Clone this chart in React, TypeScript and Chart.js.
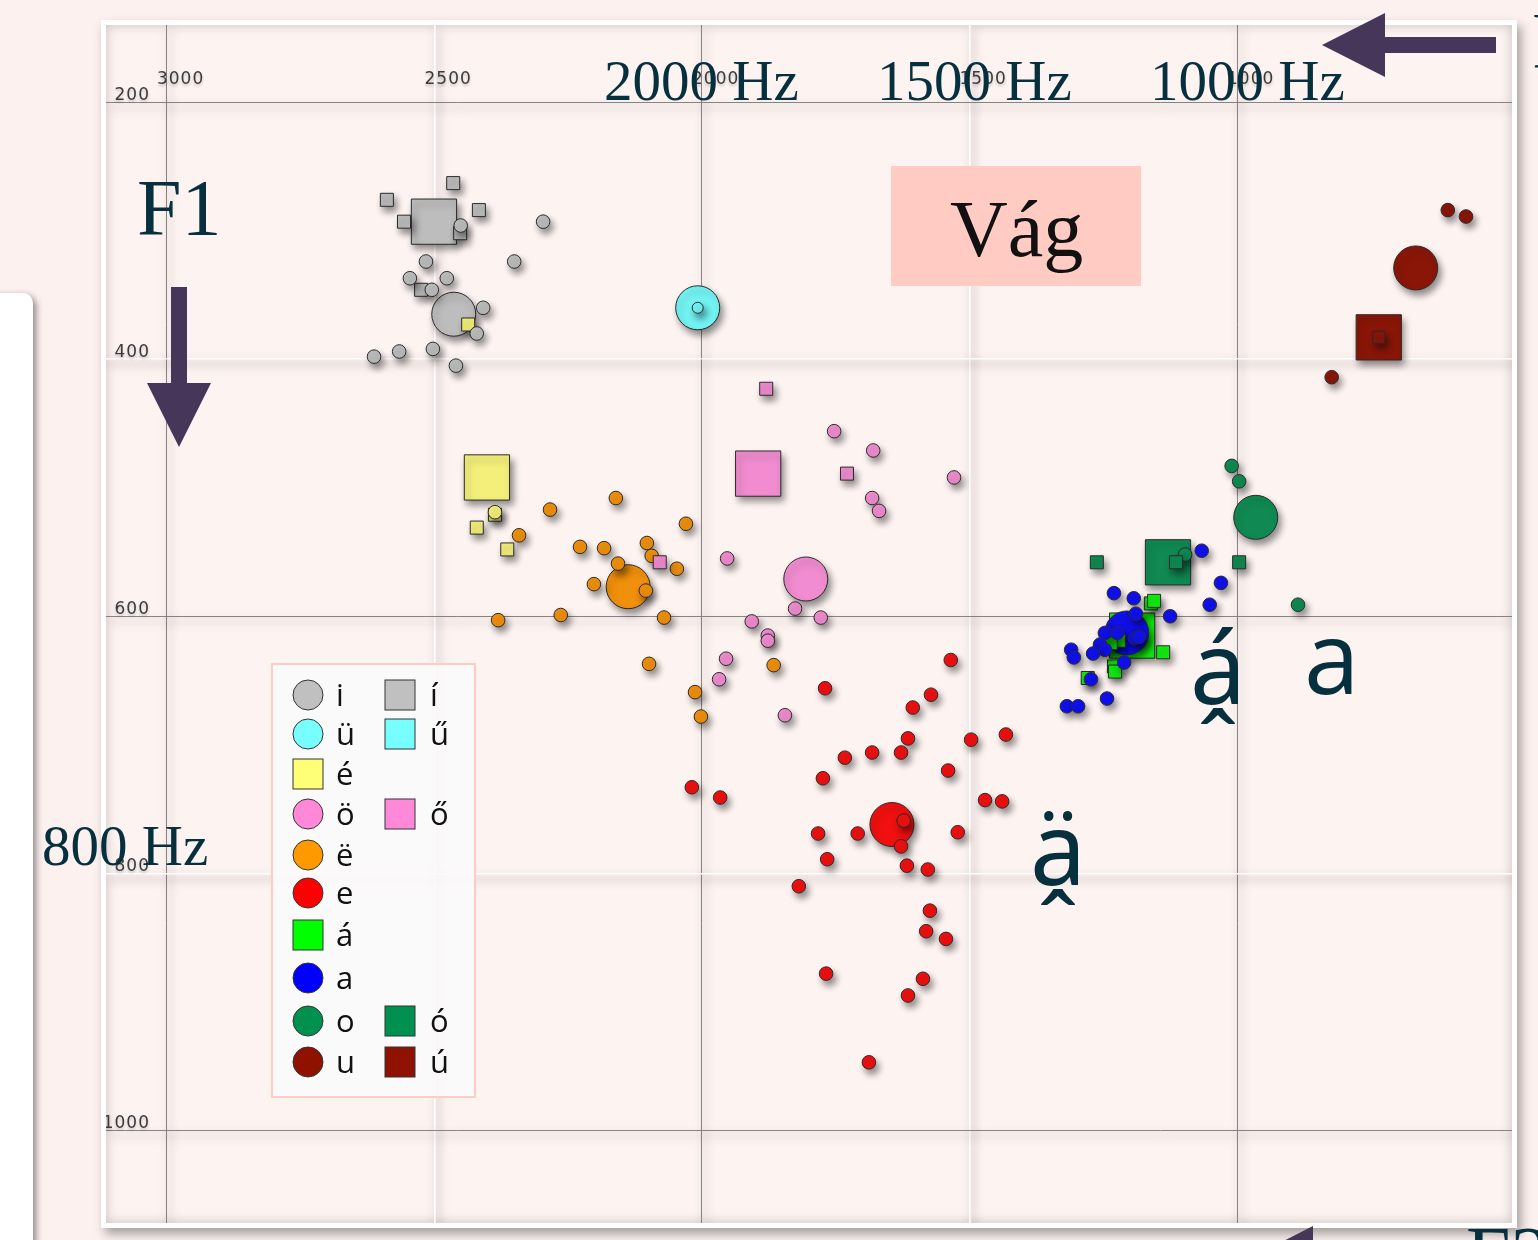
import React, { useEffect, useRef } from 'react';
import { Chart, registerables } from 'chart.js';

Chart.register(...registerables);

type Pt = [number, number]; // [F2 Hz, F1 Hz]

const X_TICKS = [3000, 2500, 2000, 1500, 1000];
const Y_TICKS = [200, 400, 600, 800, 1000];
const X_MAJOR = [3000, 2000, 1000];
const Y_MAJOR = [200, 600, 1000];

// i / í
const I_POINTS: Pt[] = [[2297, 293], [2351, 324], [2516, 324], [2546, 337], [2477, 337], [2505, 346], [2451, 296], [2409, 360], [2421, 380], [2613, 398], [2566, 394], [2503, 392], [2460, 405]];
const I_MEAN: Pt[] = [[2464, 365]];
const II_POINTS: Pt[] = [[2465, 263], [2589, 276], [2417, 284], [2557, 293], [2452, 302], [2525, 346]];
const II_MEAN: Pt[] = [[2501, 293]];
// ü
const UE_POINTS: Pt[] = [[2008, 360]];
const UE_MEAN: Pt[] = [[2008, 360]];
// é
const EE_POINTS: Pt[] = [[2387, 521], [2421, 531], [2364, 548], [2437, 373]];
const EE_EXTRA: Pt[] = [[2387, 519]];
const EE_MEAN: Pt[] = [[2402, 492]];
// ö / ő
const OE_POINTS: Pt[] = [[1753, 456], [1680, 471], [1529, 492], [1682, 508], [1669, 518], [1953, 555], [1826, 594], [1778, 601], [1907, 604], [1877, 615], [1877, 619], [1955, 633], [1968, 649], [1845, 677]];
const OE_MEAN: Pt[] = [[1806, 571]];
const OEE_POINTS: Pt[] = [[1880, 423], [1729, 489], [2079, 558]];
const OEE_MEAN: Pt[] = [[1895, 489]];
// ë
const EU_POINTS: Pt[] = [[2161, 508], [2284, 517], [2030, 528], [2342, 537], [2228, 546], [2183, 547], [2103, 543], [2094, 553], [2157, 559], [2047, 563], [2202, 575], [2105, 580], [2381, 603], [2264, 599], [2071, 601], [2099, 637], [1866, 638], [2013, 659], [2002, 678]];
const EU_MEAN: Pt[] = [[2138, 577]];
// e
const E_POINTS: Pt[] = [[1535, 634], [1770, 656], [1572, 661], [1606, 671], [1615, 695], [1497, 696], [1432, 692], [1733, 710], [1682, 706], [1628, 706], [1774, 726], [1540, 720], [2019, 733], [1966, 741], [1471, 743], [1439, 744], [1783, 769], [1709, 769], [1623, 759], [1628, 779], [1522, 768], [1766, 789], [1617, 794], [1578, 797], [1819, 810], [1574, 829], [1581, 845], [1544, 851], [1768, 878], [1587, 882], [1615, 895], [1688, 947]];
const E_MEAN: Pt[] = [[1645, 762]];
// á
const AA_POINTS: Pt[] = [[1161, 590], [1155, 588], [1138, 628], [1230, 639], [1228, 643], [1279, 648], [1221, 619], [1236, 621]];
const AA_MEAN: Pt[] = [[1196, 615]];
// a
const A_POINTS: Pt[] = [[1066, 549], [1030, 574], [1051, 591], [1230, 582], [1193, 586], [1189, 598], [1125, 600], [1247, 613], [1224, 613], [1256, 622], [1247, 626], [1269, 629], [1310, 626], [1305, 632], [1191, 617], [1183, 616], [1211, 636], [1273, 649], [1243, 664], [1318, 670], [1297, 670]];
const A_MEAN: Pt[] = [[1206, 613]];
// o / ó
const O_POINTS: Pt[] = [[1097, 552], [886, 591], [1010, 483], [996, 495]];
const O_MEAN: Pt[] = [[965, 523]];
const OO_POINTS: Pt[] = [[1262, 558], [1114, 558], [996, 558]];
const OO_MEAN: Pt[] = [[1129, 558]];
// u / ú
const U_POINTS: Pt[] = [[606, 284], [572, 289], [823, 414]];
const U_MEAN: Pt[] = [[666, 329]];
const UU_POINTS: Pt[] = [[735, 383]];
const UU_MEAN: Pt[] = [[735, 383]];

const C = {
  gray: '#bdbdbd', cyan: '#73f3f3', yellow: '#f3ef7a', pink: '#f08ccf', orange: '#f0900c',
  red: '#f01010', green: '#10f010', blue: '#1010f0', dgreen: '#108a52', dred: '#8a1608',
};

const LEGEND_LEFT = [
  { label: 'i', shape: 'circle', color: '#c0c0c0' },
  { label: 'ü', shape: 'circle', color: '#77ffff' },
  { label: 'é', shape: 'rect', color: '#ffff77' },
  { label: 'ö', shape: 'circle', color: '#ff88d8' },
  { label: 'ë', shape: 'circle', color: '#ff9900' },
  { label: 'e', shape: 'circle', color: '#ff0000' },
  { label: 'á', shape: 'rect', color: '#00ff00' },
  { label: 'a', shape: 'circle', color: '#0000ff' },
  { label: 'o', shape: 'circle', color: '#009050' },
  { label: 'u', shape: 'circle', color: '#8f1200' },
];
const LEGEND_RIGHT: ({ label: string; color: string } | null)[] = [
  { label: 'í', color: '#c0c0c0' },
  { label: 'ű', color: '#77ffff' },
  null,
  { label: 'ő', color: '#ff88d8' },
  null, null, null, null,
  { label: 'ó', color: '#009050' },
  { label: 'ú', color: '#8f1200' },
];
const LEGEND_ROW_Y = [695, 734, 774, 814, 855, 893, 935, 978, 1021, 1062];

const SMALL_R = 6.8;
const SMALL_SQ = 9.2;
const BIG_R = 22;
const BIG_SQ = 32;

function ds(pts: Pt[], color: string, style: string, radius: number, order: number) {
  return {
    data: pts.map(([x, y]) => ({ x, y })),
    backgroundColor: color,
    borderColor: '#2a2a2a',
    borderWidth: 1,
    pointStyle: style,
    pointRadius: radius,
    pointHoverRadius: radius,
    order,
  };
}

const GRID_MAJOR = 'rgba(120,120,120,0.9)';
const GRID_MINOR = 'rgba(255,255,255,0.95)';

const plotPlugin = {
  id: 'plotDecor',
  beforeDraw(chart: any) {
    const c = chart.ctx;
    c.save();
    c.shadowColor = 'rgba(70,50,50,0.6)';
    c.shadowBlur = 10;
    c.shadowOffsetX = 3;
    c.shadowOffsetY = 5;
  },
  beforeDatasetsDraw(chart: any) {
    const c = chart.ctx;
    c.shadowColor = 'rgba(0,0,0,0.45)';
    c.shadowBlur = 7;
    c.shadowOffsetX = 3;
    c.shadowOffsetY = 5;
  },
  afterDatasetsDraw(chart: any) {
    chart.ctx.restore();
  },
  afterDraw(chart: any) {
    const { ctx, scales } = chart;
    const xs = scales.x;
    const ys = scales.y;
    ctx.save();
    ctx.font = '17px "DejaVu Sans"';
    ctx.fillStyle = '#3c3c3c';
    try { (ctx as any).letterSpacing = '1px'; } catch (e) { /* ignore */ }
    ctx.shadowColor = 'rgba(0,0,0,0.22)';
    ctx.shadowBlur = 3;
    ctx.shadowOffsetY = 2;
    ctx.textBaseline = 'alphabetic';
    const topY = ys.getPixelForValue(Y_TICKS[0]);
    ctx.textAlign = 'left';
    X_TICKS.forEach((v) => ctx.fillText(String(v), xs.getPixelForValue(v) - 10, topY - 18));
    ctx.textAlign = 'right';
    const leftX = xs.getPixelForValue(X_TICKS[0]);
    Y_TICKS.forEach((v) => ctx.fillText(String(v), leftX - 17, ys.getPixelForValue(v) - 2));
    ctx.restore();
  },
};

export default function App() {
  const ref = useRef<HTMLCanvasElement | null>(null);

  useEffect(() => {
    if (!ref.current) return;
    const datasets = [
      ds(I_MEAN, C.gray, 'circle', BIG_R, 50),
      ds(II_MEAN, C.gray, 'rect', BIG_SQ, 50),
      ds(UE_MEAN, C.cyan, 'circle', BIG_R, 50),
      ds(EE_MEAN, C.yellow, 'rect', BIG_SQ, 50),
      ds(OE_MEAN, C.pink, 'circle', BIG_R, 50),
      ds(OEE_MEAN, C.pink, 'rect', BIG_SQ, 50),
      ds(EU_MEAN, C.orange, 'circle', BIG_R, 50),
      ds(E_MEAN, C.red, 'circle', BIG_R, 50),
      ds(AA_MEAN, C.green, 'rect', BIG_SQ, 60),
      ds(A_MEAN, C.blue, 'circle', BIG_R, 40),
      ds(OO_MEAN, C.dgreen, 'rect', BIG_SQ, 50),
      ds(O_MEAN, C.dgreen, 'circle', BIG_R, 50),
      ds(U_MEAN, C.dred, 'circle', BIG_R, 50),
      ds(UU_MEAN, C.dred, 'rect', BIG_SQ, 50),
      ds(I_POINTS, C.gray, 'circle', SMALL_R, 5),
      ds(II_POINTS, C.gray, 'rect', SMALL_SQ, 5),
      ds(UE_POINTS, C.cyan, 'circle', 5.5, 5),
      ds(EE_POINTS, C.yellow, 'rect', SMALL_SQ, 5),
      ds(EE_EXTRA, C.yellow, 'circle', SMALL_R, 4),
      ds(OE_POINTS, C.pink, 'circle', SMALL_R, 5),
      ds(OEE_POINTS, C.pink, 'rect', SMALL_SQ, 4),
      ds(EU_POINTS, C.orange, 'circle', SMALL_R, 5),
      ds(E_POINTS, C.red, 'circle', SMALL_R, 5),
      ds(AA_POINTS, C.green, 'rect', SMALL_SQ, 6),
      ds(A_POINTS, C.blue, 'circle', SMALL_R, 5),
      ds(OO_POINTS, C.dgreen, 'rect', SMALL_SQ, 5),
      ds(O_POINTS, C.dgreen, 'circle', SMALL_R, 5),
      ds(U_POINTS, C.dred, 'circle', SMALL_R, 5),
      ds(UU_POINTS, C.dred, 'rect', 8.5, 5),
    ];
    const chart = new Chart(ref.current, {
      type: 'scatter',
      data: { datasets } as any,
      options: {
        animation: false,
        responsive: false,
        devicePixelRatio: 1,
        layout: { padding: 0, autoPadding: false },
        plugins: { legend: { display: false }, tooltip: { enabled: false } },
        events: [],
        scales: {
          x: {
            type: 'linear',
            min: 486,
            max: 3114,
            reverse: true,
            position: 'top',
            afterBuildTicks: (s: any) => { s.ticks = X_TICKS.map((v) => ({ value: v })); },
            ticks: { display: false },
            grid: {
              drawTicks: false,
              color: (c: any) => (X_MAJOR.includes(c.tick?.value) ? GRID_MAJOR : GRID_MINOR),
              lineWidth: (c: any) => (X_MAJOR.includes(c.tick?.value) ? 1 : 1.6),
            },
            border: { display: false },
          },
          y: {
            type: 'linear',
            min: 140,
            max: 1072,
            reverse: true,
            afterBuildTicks: (s: any) => { s.ticks = Y_TICKS.map((v) => ({ value: v })); },
            ticks: { display: false },
            grid: {
              drawTicks: false,
              color: (c: any) => (Y_MAJOR.includes(c.tick?.value) ? GRID_MAJOR : GRID_MINOR),
              lineWidth: (c: any) => (Y_MAJOR.includes(c.tick?.value) ? 1 : 1.6),
            },
            border: { display: false },
          },
        },
      } as any,
      plugins: [plotPlugin],
    });
    return () => chart.destroy();
  }, []);

  const serif = '"Liberation Serif", "DejaVu Serif", serif';
  const sans = '"Open Sans", "Noto Sans", "DejaVu Sans", sans-serif';
  const ink = '#07303f';
  const arrow = '#45365a';

  return (
    <div style={{ position: 'absolute', left: 0, top: 0, width: 1538, height: 1240, overflow: 'hidden', background: '#fcf1ef' }}>
      <div style={{ position: 'absolute', left: -20, top: 293, width: 53, height: 1000, background: '#ffffff', borderRadius: 10, boxShadow: '3px 3px 7px rgba(0,0,0,0.45)' }} />
      <div style={{ position: 'absolute', left: 101, top: 20, width: 1406, height: 1198, border: '5px solid #ffffff', background: '#fdf4f2', boxShadow: '4px 6px 10px rgba(0,0,0,0.35), inset 0 0 12px rgba(0,0,0,0.22)' }}>
        <canvas ref={ref} width={1406} height={1198} style={{ position: 'absolute', left: 0, top: 0, display: 'block' }} />
      </div>
      <svg width={1538} height={1240} style={{ position: 'absolute', left: 0, top: 0, pointerEvents: 'none' }}>
        {/* big axis labels */}
        <text x={604} y={100} fontFamily={serif} fontSize={57} fill={ink}>2000 Hz</text>
        <text x={877} y={100} fontFamily={serif} fontSize={57} fill={ink}>1500 Hz</text>
        <text x={1150} y={100} fontFamily={serif} fontSize={57} fill={ink}>1000 Hz</text>
        <text x={137} y={235} fontFamily={serif} fontSize={80} fill={ink}>F1</text>
        <text x={42} y={865} fontFamily={serif} fontSize={57} fill={ink}>800 Hz</text>
        <text x={1532} y={68} fontFamily={serif} fontSize={80} fill={ink}>F2</text>
        <text x={1466} y={1282} fontFamily={serif} fontSize={80} fill={ink}>F2</text>
        {/* arrows */}
        <rect x={1380} y={37} width={116} height={16} fill={arrow} />
        <polygon points="1322,45 1385,13 1385,77" fill={arrow} />
        <rect x={171} y={287} width={16} height={100} fill={arrow} />
        <polygon points="147,383 211,383 179,447" fill={arrow} />
        <rect x={1310} y={1250} width={116} height={16} fill={arrow} />
        <polygon points="1250,1258 1313,1226 1313,1290" fill={arrow} />
        {/* title box */}
        <rect x={891} y={166} width={250} height={120} fill="#ffcbc3" />
        <text x={950} y={256} fontFamily={serif} fontSize={80} fill="#111111">Vág</text>
        {/* vowel quality labels */}
        <text x={1304} y={694} fontFamily={sans} fontSize={100} fill={ink}>a</text>
        <text x={1190} y={704} fontFamily={sans} fontSize={100} fill={ink}>á̭</text>
        <text x={1030} y={885} fontFamily={sans} fontSize={100} fill={ink}>ä̭</text>
        {/* legend */}
        <rect x={272} y={664} width={203} height={433} fill="rgba(250,250,250,0.88)" stroke="#ffcbc3" strokeWidth={2} />
        {LEGEND_LEFT.map((e, i) => {
          const cy = LEGEND_ROW_Y[i];
          return (
            <g key={'l' + i}>
              {e.shape === 'circle'
                ? <circle cx={308} cy={cy} r={15} fill={e.color} stroke="#333" strokeWidth={1} />
                : <rect x={293} y={cy - 15} width={30} height={30} fill={e.color} stroke="#333" strokeWidth={1} />}
              <text x={336} y={cy + 11} fontFamily={sans} fontSize={31} fill="#111">{e.label}</text>
            </g>
          );
        })}
        {LEGEND_RIGHT.map((e, i) => {
          if (!e) return null;
          const cy = LEGEND_ROW_Y[i];
          return (
            <g key={'r' + i}>
              <rect x={385} y={cy - 15} width={30} height={30} fill={e.color} stroke="#333" strokeWidth={1} />
              <text x={430} y={cy + 11} fontFamily={sans} fontSize={31} fill="#111">{e.label}</text>
            </g>
          );
        })}
      </svg>
    </div>
  );
}
